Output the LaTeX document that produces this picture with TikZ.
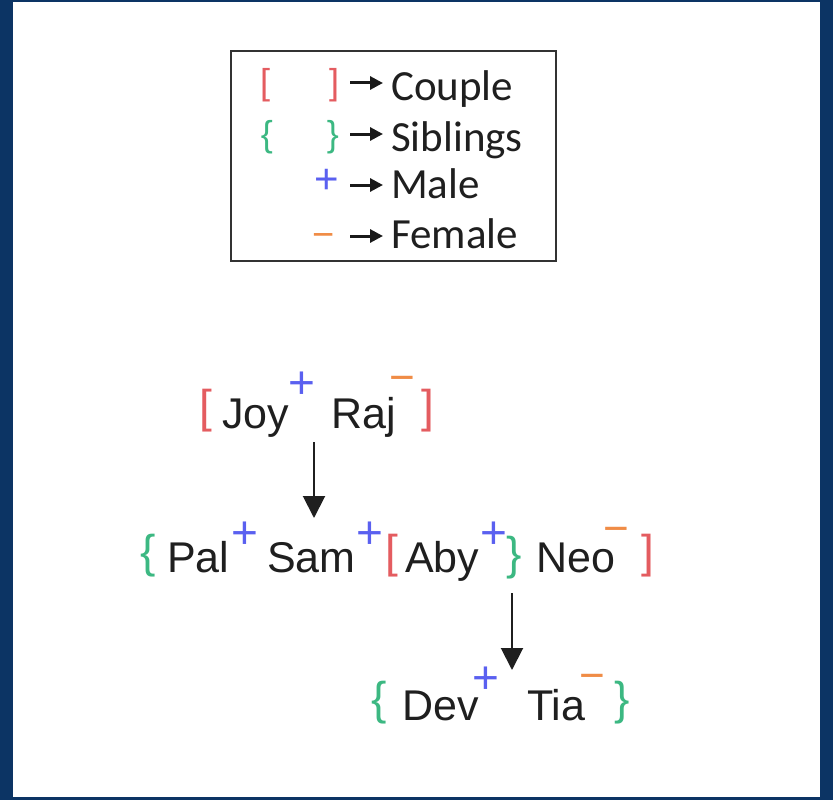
\documentclass[tikz,border=0pt]{standalone}
\usepackage{fontspec}
\usetikzlibrary{arrows.meta}
\newfontfamily\treefont{Liberation Sans}
\newfontfamily\legfont{Carlito}
\definecolor{bgblue}{RGB}{12,52,100}
\definecolor{cred}{RGB}{228,92,96}
\definecolor{cgreen}{RGB}{60,184,130}
\definecolor{cblue}{RGB}{90,96,240}
\definecolor{corange}{RGB}{240,140,70}
\definecolor{boxgray}{RGB}{50,50,50}
\tikzset{
  personname/.style={inner sep=0pt, anchor=base west, font=\treefont\fontsize{43}{50}\selectfont, text=black!88},
  legtext/.style={inner sep=0pt, anchor=base west, font=\legfont\fontsize{43}{50}\selectfont, text=black!88},
  brk/.style={inner sep=0pt, anchor=center, font=\treefont\fontsize{46}{50}\selectfont},
  legbrk/.style={inner sep=0pt, anchor=center, font=\treefont\fontsize{36}{40}\selectfont},
  plussign/.style={inner sep=0pt, anchor=center, text=cblue, font=\treefont\fontsize{46}{50}\selectfont},
  minussign/.style={inner sep=0pt, anchor=center, text=corange, font=\treefont\fontsize{44}{50}\selectfont},
  treearrow/.style={line width=2pt, black!88, -{Triangle[width=22pt,length=22pt]}},
  legarrow/.style={line width=3pt, black!90, -{Triangle[width=13pt,length=13pt]}},
}
\begin{document}
\begin{tikzpicture}[x=1pt,y=-1pt]
\useasboundingbox (0,0) rectangle (833,800);
\fill[bgblue] (0,0) rectangle (833,800);
\fill[white] (13,2) rectangle (820,797);

% legend
\draw[boxgray, line width=2pt] (231,51) rectangle (556,261);
\node[legbrk, text=cred] (lb1) at (265,85) {[};
\node[legbrk, text=cred] (lb2) at (334,85) {]};
\node[legbrk, text=cgreen] (lc1) at (267,137) {\{};
\node[legbrk, text=cgreen] (lc2) at (333,137) {\}};
\node[plussign, font=\treefont\fontsize{42}{46}\selectfont] (lp) at (327,181) {+};
\node[minussign, font=\treefont\fontsize{38}{44}\selectfont] (lm) at (324,241) {−};
\node[legtext] (tc) at (391,100) {Couple};
\node[legtext] (ts) at (391,151) {Siblings};
\node[legtext] (tm) at (391,198) {Male};
\node[legtext] (tf) at (391,248) {Female};
\coordinate (a1s) at (350,83); \coordinate (a1e) at (383,83);
\coordinate (a2s) at (350,134); \coordinate (a2e) at (383,134);
\coordinate (a3s) at (350,185); \coordinate (a3e) at (383,185);
\coordinate (a4s) at (350,236); \coordinate (a4e) at (383,236);
\draw[legarrow] (a1s) -- (a1e);
\draw[legarrow] (a2s) -- (a2e);
\draw[legarrow] (a3s) -- (a3e);
\draw[legarrow] (a4s) -- (a4e);

% row 1
\node[brk, text=cred] (r1l) at (206,411) {[};
\node[personname] (joy) at (222,428) {Joy};
\node[plussign] (p1) at (302,385) {+};
\node[personname] (raj) at (331,428) {Raj};
\node[minussign] (m1) at (402,384) {−};
\node[brk, text=cred] (r1r) at (428,411) {]};

% row 2
\node[brk, text=cgreen] (r2a) at (148,556) {\{};
\node[personname] (pal) at (167,572) {Pal};
\node[plussign] (p2) at (245,535) {+};
\node[personname] (sam) at (267,572) {Sam};
\node[plussign] (p3) at (370,535) {+};
\node[brk, text=cred] (r2b) at (392,556) {[};
\node[personname] (aby) at (405,572) {Aby};
\node[plussign] (p4) at (494,535) {+};
\node[brk, text=cgreen] (r2c) at (514,558) {\}};
\node[personname] (neo) at (536,572) {Neo};
\node[minussign] (m2) at (616,535) {−};
\node[brk, text=cred] (r2d) at (648,556) {]};

% row 3
\node[brk, text=cgreen] (r3a) at (379,703) {\{};
\node[personname] (dev) at (402,720) {Dev};
\node[plussign] (p5) at (486,680) {+};
\node[personname] (tia) at (527,720) {Tia};
\node[minussign] (m3) at (592,682) {−};
\node[brk, text=cgreen] (r3b) at (622,703) {\}};

% arrows
\coordinate (c1s) at (314,442); \coordinate (c1e) at (314,518);
\coordinate (c2s) at (512,593); \coordinate (c2e) at (512,670);
\draw[treearrow] (c1s) -- (c1e);
\draw[treearrow] (c2s) -- (c2e);
\end{tikzpicture}
\end{document}
